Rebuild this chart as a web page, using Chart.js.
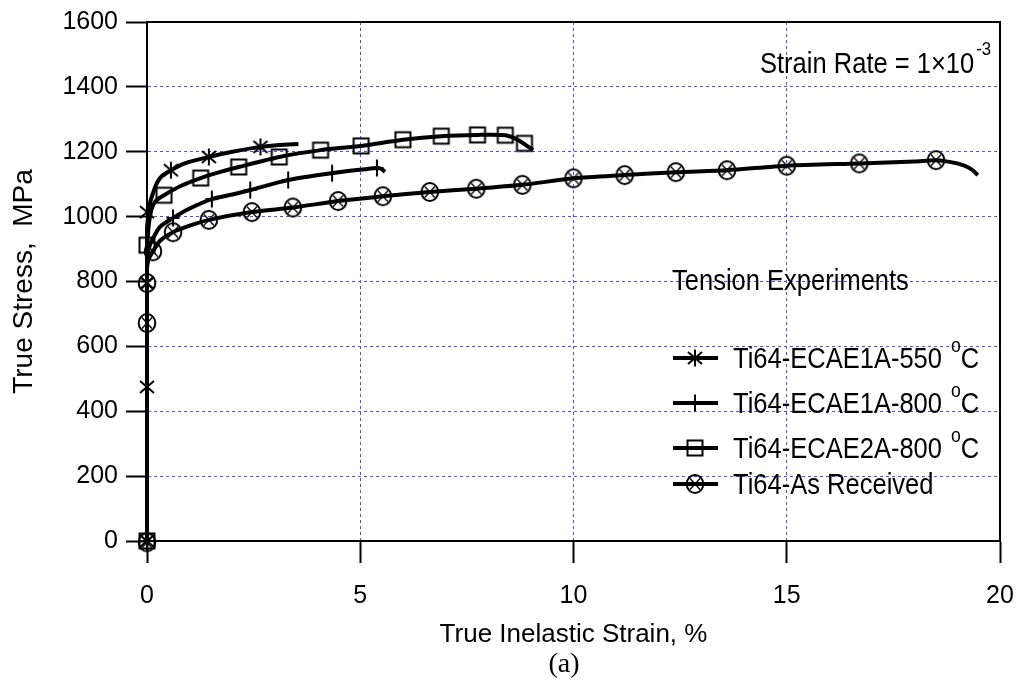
<!DOCTYPE html>
<html><head><meta charset="utf-8">
<script src="https://cdn.jsdelivr.net/npm/chart.js@4.4.0/dist/chart.umd.min.js"></script>
<style>html,body{margin:0;padding:0;background:#fff;}canvas{display:block;}</style>
</head><body>
<canvas id="c" width="1021" height="690"></canvas>
<script>
// ---------- data ----------
const xTickValues = [0, 5, 10, 15, 20];
const yTickValues = [0, 200, 400, 600, 800, 1000, 1200, 1400, 1600];
const xTitle = 'True Inelastic Strain, %';
const yTitle = 'True Stress,  MPa';
const legendTitle = 'Tension Experiments';
const rateText = 'Strain Rate = 1×10';
const rateExp = '-3';
const panelLabel = '(a)';
const seriesLabels = ['Ti64-ECAE1A-550 °C', 'Ti64-ECAE1A-800 °C', 'Ti64-ECAE2A-800 °C', 'Ti64-As Received'];

// Ti64-ECAE1A-550 °C
const e550Strain = [0, 0, 0.03, 0.07, 0.14, 0.23, 0.35, 0.56, 0.9, 1.45, 2.0, 2.66, 3.1, 3.55];
const e550Stress = [0, 960, 1005, 1042, 1072, 1103, 1125, 1143, 1165, 1184, 1200, 1215, 1221, 1224];
const e550MarkStrain = [0, 0, 0, 0, 0.56, 1.45, 2.66];
const e550MarkStress = [0, 475, 795, 1014, 1143, 1184, 1215];

// Ti64-ECAE1A-800 °C
const e800Strain = [0, 0, 0.05, 0.12, 0.3, 0.61, 1.0, 1.52, 2.0, 2.42, 3.31, 4.34, 5.1, 5.39, 5.5, 5.58];
const e800Stress = [0, 870, 905, 928, 968, 996, 1025, 1054, 1068, 1082, 1113, 1134, 1146, 1150, 1147, 1138];
const e800MarkStrain = [0, 0.61, 1.52, 2.42, 3.31, 4.34, 5.39];
const e800MarkStress = [0, 996, 1054, 1082, 1113, 1134, 1150];

// Ti64-ECAE2A-800 °C
const e2AStrain = [0, 0, 0.03, 0.1, 0.2, 0.4, 0.8, 1.26, 1.7, 2.15, 3.1, 4.07, 5.02, 6.0, 6.9, 7.75, 8.4, 8.7, 9.05];
const e2AStress = [0, 880, 960, 1020, 1048, 1066, 1095, 1119, 1137, 1153, 1184, 1205, 1218, 1237, 1248, 1252, 1251, 1236, 1205];
const e2AMarkStrain = [0, 0, 0.4, 1.26, 2.15, 3.1, 4.07, 5.02, 6.0, 6.9, 7.75, 8.4, 8.85];
const e2AMarkStress = [0, 912, 1066, 1119, 1153, 1184, 1205, 1218, 1237, 1248, 1252, 1251, 1226];

// Ti64-As Received
const asrStrain = [0, 0, 0.03, 0.08, 0.14, 0.3, 0.61, 1.0, 1.45, 2.46, 3.42, 4.48, 5.53, 6.63, 7.72, 8.8, 10.0, 11.2, 12.4, 13.6, 15.0, 16.7, 18.0, 18.5, 18.85, 19.15, 19.35, 19.48];
const asrStress = [0, 840, 865, 880, 893, 925, 952, 972, 990, 1014, 1028, 1048, 1063, 1076, 1086, 1098, 1118, 1128, 1137, 1143, 1157, 1164, 1170, 1174, 1168, 1158, 1144, 1128];
const asrMarkStrain = [0, 0, 0, 0.14, 0.61, 1.45, 2.46, 3.42, 4.48, 5.53, 6.63, 7.72, 8.8, 10.0, 11.2, 12.4, 13.6, 15.0, 16.7, 18.5];
const asrMarkStress = [-4, 672, 795, 893, 952, 990, 1014, 1028, 1048, 1063, 1076, 1086, 1098, 1118, 1128, 1137, 1143, 1157, 1164, 1174];

// ---------- styling ----------
const FAMILY = '"Liberation Sans", Arial, sans-serif';
const gridColor = '#4d4dff';

function mk(kind) {
  const c = document.createElement('canvas');
  c.width = 24; c.height = 24;
  const g = c.getContext('2d');
  g.strokeStyle = '#000';
  g.lineWidth = 2;
  g.translate(12, 12);
  g.beginPath();
  if (kind === 'star') {
    g.moveTo(0, -8.5); g.lineTo(0, 8.5);
    g.moveTo(-7, -6); g.lineTo(7, 6);
    g.moveTo(7, -6); g.lineTo(-7, 6);
    g.stroke();
  } else if (kind === 'plus') {
    g.moveTo(0, -8.5); g.lineTo(0, 8.5);
    g.moveTo(-6.5, 0); g.lineTo(6.5, 0);
    g.stroke();
  } else if (kind === 'square') {
    g.rect(-7.5, -7.5, 15, 15);
    g.stroke();
  } else {
    g.ellipse(0, 0, 8.3, 9, 0, 0, Math.PI * 2);
    g.stroke();
    g.lineWidth = 1.3;
    g.beginPath();
    g.moveTo(-5, -5.5); g.lineTo(5, 5.5);
    g.moveTo(5, -5.5); g.lineTo(-5, 5.5);
    g.stroke();
  }
  return c;
}
const markerImgs = [mk('star'), mk('plus'), mk('square'), mk('circlex')];

const toPts = (xs, ys) => xs.map((x, i) => ({x: x, y: ys[i]}));
const lineDs = (label, xs, ys) => ({
  label: label, data: toPts(xs, ys), showLine: true, borderColor: '#000', borderWidth: 4,
  pointRadius: 0, tension: 0.25, clip: false, fill: false, order: 2
});
const markDs = (label, xs, ys, img) => ({
  label: label, data: toPts(xs, ys), showLine: false, pointStyle: img, pointRadius: 9,
  borderColor: '#000', backgroundColor: 'rgba(0,0,0,0)', clip: false, order: 1
});

const datasets = [
  lineDs(seriesLabels[0], e550Strain, e550Stress),
  lineDs(seriesLabels[1], e800Strain, e800Stress),
  lineDs(seriesLabels[2], e2AStrain, e2AStress),
  lineDs(seriesLabels[3], asrStrain, asrStress),
  markDs(seriesLabels[0], e550MarkStrain, e550MarkStress, markerImgs[0]),
  markDs(seriesLabels[1], e800MarkStrain, e800MarkStress, markerImgs[1]),
  markDs(seriesLabels[2], e2AMarkStrain, e2AMarkStress, markerImgs[2]),
  markDs(seriesLabels[3], asrMarkStrain, asrMarkStress, markerImgs[3])
];

function ctext(ctx, s, x, y, size, sx) {
  ctx.save();
  ctx.font = size + 'px ' + FAMILY;
  const w = ctx.measureText(s).width * sx;
  ctx.translate(x, y);
  ctx.scale(sx, 1);
  ctx.fillStyle = '#000';
  ctx.textAlign = 'left';
  ctx.textBaseline = 'alphabetic';
  ctx.fillText(s, 0, 0);
  ctx.restore();
  return w;
}

const decor = {
  id: 'decor',
  beforeDatasetsDraw(chart) {
    const {ctx, chartArea: a} = chart;
    ctx.save();
    ctx.strokeStyle = '#000';
    ctx.lineWidth = 2;
    ctx.strokeRect(a.left, a.top, a.right - a.left, a.bottom - a.top);
    ctx.restore();
  },
  afterDraw(chart) {
    const {ctx, chartArea: a} = chart;
    const SX = 0.88;
    // strain rate annotation
    const w = ctext(ctx, rateText, a.left + 613, a.top + 51, 29, SX);
    ctext(ctx, rateExp, a.left + 613 + w + 2, a.top + 33, 19, SX);
    // legend
    const lx = a.left + 525;
    ctext(ctx, legendTitle, lx, a.top + 268, 29, SX);
    const rows = [336, 381, 426, 462];
    rows.forEach((dy, i) => {
      const y = a.top + dy;
      ctx.save();
      ctx.strokeStyle = '#000';
      ctx.lineWidth = 4;
      ctx.beginPath();
      ctx.moveTo(lx + 1, y); ctx.lineTo(lx + 46, y);
      ctx.stroke();
      ctx.drawImage(markerImgs[i], lx + 23 - 12, y - 12);
      ctx.restore();
      const parts = seriesLabels[i].split('°');
      let tx = lx + 61;
      tx += ctext(ctx, parts[0], tx, y + 10, 29, SX);
      if (parts.length > 1) {
        tx += 2;
        tx += ctext(ctx, 'o', tx, y - 6, 20, SX);
        ctext(ctx, parts[1], tx, y + 10, 29, SX);
      }
    });
    // panel label
    ctx.save();
    ctx.font = '28px "Liberation Serif", "Times New Roman", serif';
    ctx.fillStyle = '#000';
    ctx.textAlign = 'center';
    ctx.textBaseline = 'alphabetic';
    ctx.fillText(panelLabel, 564, 672);
    ctx.restore();
  }
};

new Chart(document.getElementById('c'), {
  type: 'scatter',
  data: {datasets: datasets},
  options: {
    responsive: false,
    animation: false,
    events: [],
    layout: {padding: {top: 22, right: 21, left: 0, bottom: 0}},
    plugins: {legend: {display: false}, tooltip: {enabled: false}},
    scales: {
      x: {
        type: 'linear', min: 0, max: 20,
        afterBuildTicks: s => { s.ticks = xTickValues.map(v => ({value: v})); },
        afterFit: s => { s.height = 149; s.paddingLeft = 0; s.paddingRight = 0; },
        ticks: {color: '#000', font: {family: FAMILY, size: 25}, padding: 18, maxRotation: 0, callback: v => String(v)},
        grid: {color: gridColor, lineWidth: 1, tickLength: 22, tickColor: '#000', tickWidth: 2, tickBorderDash: []},
        border: {display: true, color: '#000', width: 2, dash: [3, 3]},
        title: {display: true, text: xTitle, color: '#000', font: {family: FAMILY, size: 26}, padding: {top: 0, bottom: 40}}
      },
      y: {
        type: 'linear', min: 0, max: 1600,
        afterBuildTicks: s => { s.ticks = yTickValues.map(v => ({value: v})); },
        afterFit: s => { s.width = 147; s.paddingTop = 0; s.paddingBottom = 0; },
        ticks: {color: '#000', font: {family: FAMILY, size: 25}, padding: 8, callback: v => String(v)},
        grid: {color: gridColor, lineWidth: 1, tickLength: 21, tickColor: '#000', tickWidth: 2, tickBorderDash: []},
        border: {display: true, color: '#000', width: 2, dash: [3, 3]},
        title: {display: true, text: yTitle, color: '#000', font: {family: FAMILY, size: 28}, padding: {top: 7, bottom: 0}}
      }
    }
  },
  plugins: [decor]
});
</script>
</body></html>
